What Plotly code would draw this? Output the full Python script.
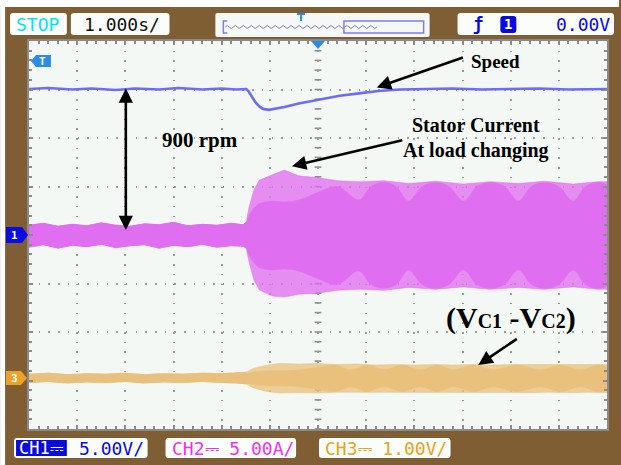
import plotly.graph_objects as go

# ---------------- data: time in s (1.000 s/div), amplitude in screen divisions -------------
speed_t = [-6.0, -5.6, -5.1, -4.7, -4.2, -3.8, -3.3, -2.9, -2.4, -2.0, -1.7, -1.49, -1.44,
           -1.38, -1.30, -1.22, -1.14, -1.02, -0.90, -0.70, -0.40, -0.10, 0.20, 0.45, 0.85,
           1.25, 1.70, 2.2, 2.8, 3.4, 4.0, 4.6, 5.2, 6.0]
speed_y = [3.01, 3.03, 3.00, 3.02, 2.99, 3.02, 3.00, 3.03, 3.00, 3.02, 3.00, 3.01, 2.96,
           2.86, 2.74, 2.65, 2.60, 2.58, 2.60, 2.64, 2.71, 2.77, 2.82, 2.87, 2.92,
           2.97, 3.00, 3.01, 3.02, 3.00, 3.01, 3.02, 3.00, 3.01]

# stator current: outer envelope
cur_t = [-6.0, -5.7, -5.4, -5.1, -4.8, -4.5, -4.2, -3.9, -3.6, -3.3, -3.0, -2.7, -2.4, -2.1,
         -1.8, -1.55, -1.49, -1.43, -1.33, -1.22, -0.95, -0.70, -0.40, 0.0, 0.4, 0.85, 1.37,
         1.88, 2.44, 3.02, 3.58, 4.16, 4.70, 5.30, 5.81, 6.0]
cur_hi = [0.20, 0.24, 0.18, 0.22, 0.19, 0.25, 0.20, 0.18, 0.23, 0.21, 0.26, 0.19, 0.22, 0.20,
          0.24, 0.21, 0.27, 0.58, 0.93, 1.13, 1.24, 1.34, 1.22, 1.18, 1.12, 1.10, 1.12, 1.06,
          1.11, 1.05, 1.10, 1.06, 1.11, 1.05, 1.10, 1.10]
cur_lo = [-0.25, -0.20, -0.27, -0.21, -0.24, -0.19, -0.26, -0.22, -0.20, -0.27, -0.21, -0.24,
          -0.19, -0.25, -0.22, -0.23, -0.27, -0.56, -0.93, -1.13, -1.26, -1.28, -1.22, -1.20,
          -1.14, -1.12, -1.14, -1.08, -1.12, -1.07, -1.12, -1.08, -1.12, -1.07, -1.12, -1.12]
# stator current: dense core (beat lobes)
core_t = [-1.49, -1.43, -1.33, -1.22, -0.95, -0.70, -0.40, 0.0, 0.4, 0.85, 1.1, 1.37, 1.62,
          1.88, 2.16, 2.44, 2.72, 3.02, 3.3, 3.58, 3.87, 4.16, 4.43, 4.70, 5.0, 5.30, 5.55,
          5.81, 6.0]
core_hi = [0.22, 0.40, 0.55, 0.65, 0.70, 0.68, 0.72, 0.88, 1.00, 0.72, 1.00, 1.08, 1.00, 0.70,
           1.00, 1.08, 1.00, 0.70, 1.00, 1.08, 1.00, 0.70, 1.00, 1.08, 1.00, 0.70, 1.00, 1.08,
           1.02]
core_lo = [-0.24, -0.42, -0.57, -0.67, -0.72, -0.70, -0.74, -0.90, -1.02, -0.74, -1.02, -1.10,
           -1.02, -0.72, -1.02, -1.10, -1.02, -0.72, -1.02, -1.10, -1.02, -0.72, -1.02, -1.10,
           -1.02, -0.72, -1.02, -1.10, -1.04]

# Vc1 - Vc2 (channel 3 offset)
yel_off = -2.95
yel_t = [-6.0, -5.6, -5.2, -4.8, -4.4, -4.0, -3.6, -3.2, -2.8, -2.4, -2.0, -1.7, -1.49, -1.35,
         -1.10, -0.80, -0.40, 0.0, 0.4, 0.8, 1.2, 1.6, 2.0, 2.4, 2.8, 3.2, 3.6, 4.0, 4.4, 4.8,
         5.2, 5.6, 6.0]
yel_hi = [0.08, 0.10, 0.07, 0.09, 0.08, 0.10, 0.07, 0.09, 0.08, 0.10, 0.09, 0.11, 0.12, 0.20,
          0.26, 0.30, 0.29, 0.30, 0.28, 0.29, 0.27, 0.28, 0.27, 0.28, 0.27, 0.28, 0.27, 0.28,
          0.28, 0.27, 0.28, 0.27, 0.28]
yel_lo = [-0.09, -0.07, -0.10, -0.08, -0.09, -0.07, -0.10, -0.08, -0.09, -0.07, -0.09, -0.10,
          -0.12, -0.20, -0.27, -0.31, -0.30, -0.31, -0.29, -0.30, -0.29, -0.30, -0.29, -0.30,
          -0.29, -0.30, -0.29, -0.30, -0.30, -0.29, -0.30, -0.29, -0.30]
ycore_t = [-1.49, -1.3, -1.0, -0.5, 0.0, 0.35, 0.70, 1.03, 1.37, 1.75, 2.13, 2.47, 2.81, 3.22,
           3.64, 4.13, 4.63, 5.04, 5.46, 5.8, 6.0]
ycore_hi = [0.09, 0.13, 0.15, 0.16, 0.22, 0.27, 0.17, 0.27, 0.17, 0.27, 0.17, 0.27, 0.17, 0.27,
            0.17, 0.27, 0.17, 0.27, 0.17, 0.27, 0.22]
ycore_lo = [-0.10, -0.14, -0.16, -0.17, -0.23, -0.28, -0.18, -0.28, -0.18, -0.28, -0.18, -0.28,
            -0.18, -0.28, -0.18, -0.28, -0.18, -0.28, -0.18, -0.28, -0.23]

top_labels = ["STOP", "1.000s/", "0.00V"]
ch_labels = ["CH1⎓", "5.00V/", "CH2⎓ 5.00A/", "CH3⎓ 1.00V/"]

# ---------------- styling ----------------
W, H = 621, 465
L, R, T, B = 29, 609, 41, 429
PW, PH = R - L, B - T
BROWN = "#7f5e34"
SCREEN = "#f4f8f5"
BLUE_TR = "#6c6cf6"
PINK = "#e06ef0"
TAN = "#e9c17d"
MONO = "DejaVu Sans Mono"
SERIF = "Liberation Serif"


def px(x):
    return (x - L) / PW


def py(y):
    return (B - y) / PH


def band(t, hi, lo, off=0.0):
    xs = list(t) + list(t)[::-1]
    ys = [v + off for v in hi] + [v + off for v in lo][::-1]
    return xs, ys


fig = go.Figure()

# traces
xs, ys = band(cur_t, cur_hi, cur_lo)
fig.add_trace(go.Scatter(x=xs, y=ys, fill="toself", mode="lines",
                         line=dict(color=PINK, width=0.5), fillcolor="rgba(224,110,240,0.78)",
                         hoverinfo="skip", showlegend=False))
xs, ys = band(core_t, core_hi, core_lo)
fig.add_trace(go.Scatter(x=xs, y=ys, fill="toself", mode="lines",
                         line=dict(color=PINK, width=0.5, shape="spline", smoothing=1.0),
                         fillcolor=PINK, hoverinfo="skip", showlegend=False))
pre_n = 17
xs, ys = band(cur_t[:pre_n], cur_hi[:pre_n], cur_lo[:pre_n])
fig.add_trace(go.Scatter(x=xs, y=ys, fill="toself", mode="lines",
                         line=dict(color=PINK, width=1), fillcolor=PINK,
                         hoverinfo="skip", showlegend=False))

xs, ys = band(yel_t, yel_hi, yel_lo, yel_off)
fig.add_trace(go.Scatter(x=xs, y=ys, fill="toself", mode="lines",
                         line=dict(color=TAN, width=0.5), fillcolor="rgba(233,193,125,0.78)",
                         hoverinfo="skip", showlegend=False))
xs, ys = band(ycore_t, ycore_hi, ycore_lo, yel_off)
fig.add_trace(go.Scatter(x=xs, y=ys, fill="toself", mode="lines",
                         line=dict(color=TAN, width=0.5, shape="spline", smoothing=1.0),
                         fillcolor=TAN, hoverinfo="skip", showlegend=False))
ypre = 13
xs, ys = band(yel_t[:ypre], yel_hi[:ypre], yel_lo[:ypre], yel_off)
fig.add_trace(go.Scatter(x=xs, y=ys, fill="toself", mode="lines",
                         line=dict(color=TAN, width=1), fillcolor=TAN,
                         hoverinfo="skip", showlegend=False))

fig.add_trace(go.Scatter(x=speed_t, y=speed_y, mode="lines",
                         line=dict(color=BLUE_TR, width=2.6), hoverinfo="skip",
                         showlegend=False))

shapes = []
shapes.append(dict(type="rect", xref="paper", yref="paper", x0=px(0), x1=px(W), y0=py(7),
                   y1=py(0), fillcolor="white", line_width=0, layer="below"))
shapes.append(dict(type="rect", xref="paper", yref="paper", x0=px(0), x1=px(5), y0=py(H),
                   y1=py(0), fillcolor="white", line_width=0, layer="below"))

for k in range(-30, 31):
    xv = k * 0.2
    shapes.append(dict(type="line", xref="x", yref="y", x0=xv, x1=xv, y0=-0.06, y1=0.06,
                       line=dict(color="#8c8c8c", width=1.6), layer="below"))
for k in range(-20, 21):
    yv = k * 0.2
    shapes.append(dict(type="line", xref="x", yref="y", x0=-0.07, x1=0.07, y0=yv, y1=yv,
                       line=dict(color="#8c8c8c", width=1.6), layer="below"))


def rrect(x0, y0, x1, y1, r, fill, line="rgba(0,0,0,0)"):
    rx, ry = r / PW, r / PH
    a, b, c, d = px(x0), px(x1), py(y1), py(y0)
    path = (f"M{a+rx},{d} L{b-rx},{d} Q{b},{d} {b},{d-ry} L{b},{c+ry} Q{b},{c} {b-rx},{c} "
            f"L{a+rx},{c} Q{a},{c} {a},{c+ry} L{a},{d-ry} Q{a},{d} {a+rx},{d} Z")
    return dict(type="path", xref="paper", yref="paper", path=path, fillcolor=fill,
                line=dict(color=line, width=1))


def poly(pts, fill):
    path = "M" + " L".join(f"{px(x)},{py(y)}" for x, y in pts) + " Z"
    return dict(type="path", xref="paper", yref="paper", path=path, fillcolor=fill,
                line=dict(width=0))


shapes.append(rrect(10, 13, 67, 35, 3, "#fbfdfb"))
shapes.append(rrect(71, 13, 170, 35, 3, "#fbfdfb"))
shapes.append(rrect(216, 13, 431, 37, 2, "#f6f8f6"))
shapes.append(rrect(459, 13, 616, 35, 3, "#fbfdfb"))
shapes.append(rrect(14, 438, 148, 458, 3, "#fbfdfb"))
shapes.append(rrect(166, 438, 297, 458, 3, "#fbfdfb"))
shapes.append(rrect(320, 438, 452, 458, 3, "#fbfdfb"))
shapes.append(dict(type="rect", xref="paper", yref="paper", x0=px(16), x1=px(67), y0=py(456),
                   y1=py(440), fillcolor="#0a0ae0", line_width=0))
shapes.append(rrect(502, 16, 518, 33, 3, "#0a0ae0"))

wave = "M" + f"{px(226)},{py(27)}"
xw = 226
while xw < 378:
    wave += f" Q{px(xw + 2)},{py(24)} {px(xw + 4)},{py(27)} Q{px(xw + 6)},{py(30)} {px(xw + 8)},{py(27)}"
    xw += 8
shapes.append(dict(type="path", xref="paper", yref="paper", path=wave,
                   line=dict(color="#7c7ca8", width=1)))
shapes.append(dict(type="rect", xref="paper", yref="paper", x0=px(345), x1=px(425), y0=py(33),
                   y1=py(21), line=dict(color="#7d7df0", width=1.5)))
shapes.append(dict(type="path", xref="paper", yref="paper",
                   path=f"M{px(228)},{py(21)} L{px(224)},{py(21)} L{px(224)},{py(33)} L{px(228)},{py(33)}",
                   line=dict(color="#7d7df0", width=1.5)))
shapes.append(dict(type="path", xref="paper", yref="paper",
                   path=f"M{px(298)},{py(14)} L{px(306)},{py(14)} M{px(302)},{py(14)} L{px(302)},{py(21)}",
                   line=dict(color="#2b8ce6", width=2)))

shapes.append(poly([(6, 227), (22, 227), (28, 235), (22, 243), (6, 243)], "#0a0ae6"))
shapes.append(poly([(6, 371), (21, 371), (27, 378), (21, 385), (6, 385)], "#e9a22a"))
shapes.append(poly([(31, 61), (36, 55), (51, 55), (51, 67), (36, 67)], "#2b8ce6"))
shapes.append(poly([(312, 41), (326, 41), (319, 49)], "#2b8ce6"))

annotations = []


def ptext(x, y, text, color, size, font=MONO, xanchor="left"):
    annotations.append(dict(xref="paper", yref="paper", x=px(x), y=py(y), text=text,
                            showarrow=False, xanchor=xanchor, yanchor="middle",
                            font=dict(family=font, size=size, color=color)))


ptext(38.5, 24.5, top_labels[0], "#00e4f0", 18, xanchor="center")
ptext(82, 24.5, top_labels[1], "#111111", 18)
ptext(473, 24.5, "<b>ƒ</b>", "#0a0ae0", 17)
ptext(510, 24.5, "<b>1</b>", "white", 14, xanchor="center")
ptext(614, 24.5, top_labels[2], "#0a0ae0", 18, xanchor="right")
ptext(17, 448, ch_labels[0], "white", 17)
ptext(77, 448, ch_labels[1], "#0a0ae0", 18)
ptext(170, 448, ch_labels[2], "#f030f0", 18)
ptext(324, 448, ch_labels[3], "#e8a21c", 18)
ptext(14, 235, "<b>1</b>", "white", 11, xanchor="center")
ptext(14, 378, "<b>3</b>", "white", 11, xanchor="center")
ptext(43, 61, "<b>T</b>", "white", 11, xanchor="center")


def dtext(t, y, text, size):
    annotations.append(dict(xref="x", yref="y", x=t, y=y, text=text, showarrow=False,
                            xanchor="center", yanchor="middle",
                            font=dict(family=SERIF, size=size, color="black")))


def arrow(t0, y0, t1, y1, both=False):
    annotations.append(dict(xref="x", yref="y", axref="x", ayref="y", x=t1, y=y1, ax=t0, ay=y0,
                            text="", showarrow=True, arrowhead=2, arrowsize=1.1,
                            arrowwidth=2.6, arrowcolor="black",
                            arrowside="end+start" if both else "end",
                            startarrowhead=2, startarrowsize=1.1))


dtext(3.68, 3.57, "<b>Speed</b>", 19)
dtext(3.29, 2.27, "<b>Stator Current</b>", 20)
dtext(3.29, 1.74, "<b>At load changing</b>", 20)
dtext(-2.44, 1.96, "<b>900 rpm</b>", 21)
dtext(4.01, -1.71, "<b>(V<span style='font-size:20px'>C1</span> -V<span style='font-size:20px'>C2</span>)</b>", 30)
arrow(3.04, 3.67, 1.22, 3.04)
arrow(1.78, 1.96, -0.54, 1.42)
arrow(-3.99, 0.07, -3.99, 3.02, both=True)
arrow(4.16, -2.12, 3.33, -2.68)

axis_common = dict(showgrid=True, gridcolor="#9a9a9a", gridwidth=1.5, griddash="1.5px,8.2px",
                   zeroline=False, showticklabels=False, showline=True, linecolor="#8a8a8a",
                   linewidth=2, mirror="allticks", ticks="inside", ticklen=4,
                   tickcolor="#8a8a8a", tickwidth=1.5, dtick=1, fixedrange=True,
                   minor=dict(dtick=0.2, ticks="inside", ticklen=3, tickcolor="#8a8a8a",
                              tickwidth=1.5, showgrid=False))

fig.update_layout(
    width=W, height=H,
    margin=dict(l=L, r=W - R, t=T, b=H - B),
    paper_bgcolor=BROWN, plot_bgcolor=SCREEN,
    xaxis=dict(range=[-6, 6], tick0=0, **axis_common),
    yaxis=dict(range=[-4, 4], tick0=0, **axis_common),
    shapes=shapes, annotations=annotations, showlegend=False,
)

fig.write_html("out.html")
